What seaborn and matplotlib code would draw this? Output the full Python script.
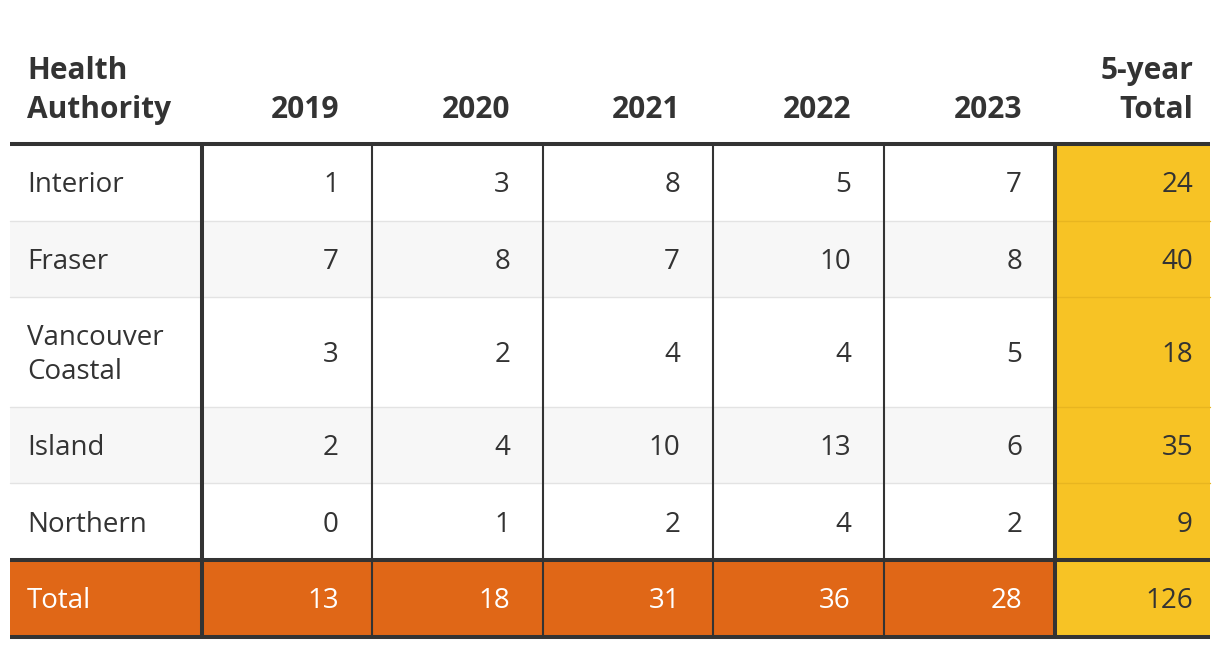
import matplotlib
matplotlib.use("Agg")
import matplotlib.pyplot as plt
import seaborn as sns

# Table contents
authorities = ["Interior", "Fraser", "Vancouver\nCoastal", "Island", "Northern"]
years = ["2019", "2020", "2021", "2022", "2023"]
counts = [
    [1, 3, 8, 5, 7],
    [7, 8, 7, 10, 8],
    [3, 2, 4, 4, 5],
    [2, 4, 10, 13, 6],
    [0, 1, 2, 4, 2],
]
five_year_totals = [24, 40, 18, 35, 9]
year_totals = [13, 18, 31, 36, 28]
grand_total = 126
first_header = "Health\nAuthority"
last_header = "5-year\nTotal"
total_label = "Total"

# Colours
TEXT = "#333333"
ORANGE = "#E06717"
YELLOW = "#F7C325"
STRIPE = "#F7F7F7"
SEP = "#E3E3E3"

# Layout (pixels)
col_edges = [10, 202, 372, 543, 713, 884, 1055, 1210]
row_heights = [77, 76, 110, 76, 77]
header_bottom = 144
total_height = 77
dy = 3  # nudge body text down a little

sns.set_theme(style="white")
plt.rcParams["font.family"] = ["Open Sans", "DejaVu Sans"]

fig = plt.figure(figsize=(12.2, 6.5), dpi=100)
ax = fig.add_axes([0, 0, 1, 1])
ax.set_xlim(0, 1220)
ax.set_ylim(650, 0)
ax.axis("off")

body_fs = 20
head_fs = 21.5

# Header text
head_baselines = [79, 118]
def header(label, x, ha):
    lines = label.split("\n")
    for line, y in zip(lines, head_baselines[-len(lines):]):
        ax.text(x, y, line, ha=ha, va="baseline", fontsize=head_fs,
                fontweight="bold", color=TEXT)

header(first_header, col_edges[0] + 17, "left")
for j, yr in enumerate(years):
    header(yr, col_edges[j + 2] - 33, "right")
header(last_header, col_edges[-1] - 17, "right")

# Body rows
top = header_bottom
for i, name in enumerate(authorities):
    h = row_heights[i]
    if i % 2 == 1:
        ax.add_patch(plt.Rectangle((col_edges[0], top), col_edges[-2] - col_edges[0], h,
                                   color=STRIPE, lw=0, zorder=0))
    ax.add_patch(plt.Rectangle((col_edges[-2], top), col_edges[-1] - col_edges[-2], h,
                               color=YELLOW, lw=0, zorder=0))
    cy = top + h / 2 + dy
    ax.text(col_edges[0] + 17, cy, name, ha="left", va="center", fontsize=body_fs,
            color=TEXT, linespacing=1.25)
    for j, v in enumerate(counts[i]):
        ax.text(col_edges[j + 2] - 33, cy, str(v), ha="right", va="center",
                fontsize=body_fs, color=TEXT)
    ax.text(col_edges[-1] - 17, cy, str(five_year_totals[i]), ha="right", va="center",
            fontsize=body_fs, color=TEXT)
    top += h
    if i < len(authorities) - 1:
        ax.plot([col_edges[0], col_edges[-2]], [top, top], color=SEP, lw=1.0, zorder=1)
        ax.plot([col_edges[-2], col_edges[-1]], [top, top], color="#E8B520", lw=1.0, zorder=1)

# Total row
body_bottom = top
ax.add_patch(plt.Rectangle((col_edges[0], top), col_edges[-2] - col_edges[0], total_height,
                           color=ORANGE, lw=0, zorder=0))
ax.add_patch(plt.Rectangle((col_edges[-2], top), col_edges[-1] - col_edges[-2], total_height,
                           color=YELLOW, lw=0, zorder=0))
cy = top + total_height / 2 + dy
ax.text(col_edges[0] + 17, cy, total_label, ha="left", va="center", fontsize=body_fs,
        color="white")
for j, v in enumerate(year_totals):
    ax.text(col_edges[j + 2] - 33, cy, str(v), ha="right", va="center",
            fontsize=body_fs, color="white")
ax.text(col_edges[-1] - 17, cy, str(grand_total), ha="right", va="center",
        fontsize=body_fs, color=TEXT)
table_bottom = top + total_height

# Rules
thick = 2.9
thin = 1.5
for y in [header_bottom, body_bottom, table_bottom]:
    ax.plot([col_edges[0], col_edges[-1]], [y, y], color=TEXT, lw=thick,
            solid_capstyle="butt", zorder=3)
for k, x in enumerate(col_edges[1:-1]):
    lw = thick if k in (0, len(col_edges) - 3) else thin
    ax.plot([x, x], [header_bottom, table_bottom], color=TEXT, lw=lw,
            solid_capstyle="butt", zorder=2)

fig.savefig("out.png", dpi=100, facecolor="white")
